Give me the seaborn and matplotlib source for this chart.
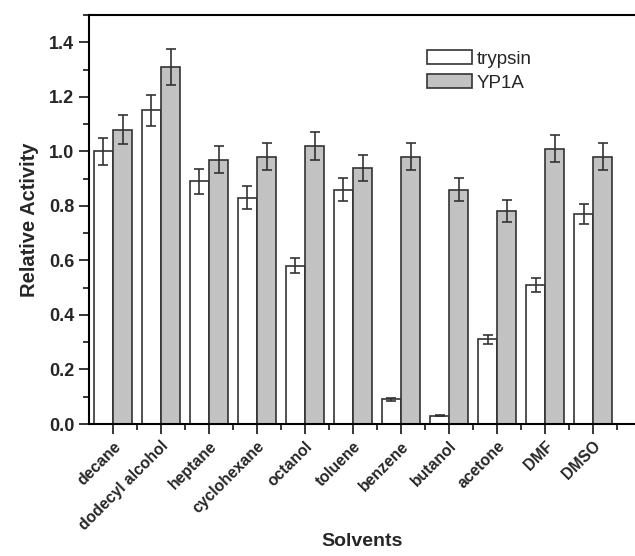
import numpy as np
import pandas as pd
import seaborn as sns
import matplotlib.pyplot as plt
from matplotlib.ticker import MultipleLocator

solvents = ["decane", "dodecyl alcohol", "heptane", "cyclohexane", "octanol",
            "toluene", "benzene", "butanol", "acetone", "DMF", "DMSO"]
trypsin = [1.00, 1.15, 0.89, 0.83, 0.58, 0.86, 0.09, 0.03, 0.31, 0.51, 0.77]
trypsin_err = [0.05, 0.058, 0.045, 0.042, 0.028, 0.042, 0.004, 0.002, 0.015, 0.025, 0.038]
yp1a = [1.08, 1.31, 0.97, 0.98, 1.02, 0.94, 0.98, 0.86, 0.78, 1.01, 0.98]
yp1a_err = [0.054, 0.065, 0.048, 0.05, 0.05, 0.047, 0.05, 0.043, 0.04, 0.05, 0.05]
enzymes = ["trypsin", "YP1A"]

df = pd.DataFrame({
    "Solvents": solvents * 2,
    "Enzyme": ["trypsin"] * len(solvents) + ["YP1A"] * len(solvents),
    "Activity": trypsin + yp1a,
    "err": trypsin_err + yp1a_err,
})

sns.set_style("ticks")
plt.rcParams['font.family'] = ['Liberation Sans', 'DejaVu Sans']

fig = plt.figure(figsize=(6.35, 5.56), dpi=100)
ax = fig.add_axes([0.140, 0.2374, 0.86, 0.7356])

sns.barplot(data=df, x="Solvents", y="Activity", hue="Enzyme", hue_order=enzymes,
            palette={"trypsin": "white", "YP1A": "#c2c2c2"}, width=0.8,
            edgecolor="#333333", linewidth=1.2, errorbar=None, ax=ax)

# error bars on bar centres
for cont, name in zip(ax.containers, enzymes):
    sub = df[df["Enzyme"] == name]
    xs = [p.get_x() + p.get_width() / 2 for p in cont.patches]
    ax.errorbar(xs, sub["Activity"], yerr=sub["err"], fmt="none",
                ecolor="#333333", elinewidth=1.2, capsize=3.4, capthick=1.2)

ax.set_ylim(0, 1.5)
ax.set_xlim(-0.5, 10.87)
ax.yaxis.set_major_locator(MultipleLocator(0.2))
ax.yaxis.set_minor_locator(MultipleLocator(0.1))
ax.set_xticks(np.arange(len(solvents)))
ax.set_xticks(np.arange(len(solvents)) + 0.5, minor=True)
ax.set_xticklabels(solvents, rotation=45, ha="right", rotation_mode="anchor",
                   fontweight="bold", fontsize=11.3)
for lab in ax.get_yticklabels():
    lab.set_fontweight("bold")
    lab.set_fontsize(13)
ax.tick_params(axis="both", which="major", length=7, width=1.3, direction="out")
ax.tick_params(axis="both", which="minor", length=4, width=1.3, direction="out")

for s in ["left", "bottom", "top"]:
    ax.spines[s].set_linewidth(1.5)
    ax.spines[s].set_color("black")
ax.spines["right"].set_visible(False)

ax.set_xlabel("Solvents", fontweight="bold", fontsize=14)
ax.set_ylabel("Relative Activity", fontweight="bold", fontsize=14.5)
ax.xaxis.set_label_coords(0.5, -0.267)
ax.yaxis.set_label_coords(-0.092, 0.5)

leg = ax.legend(loc="upper left", bbox_to_anchor=(0.588, 0.955), frameon=False,
                fontsize=13.5, handlelength=2.4, handleheight=0.75,
                handletextpad=0.25, labelspacing=0.35)

fig.savefig("out.png", dpi=100)
